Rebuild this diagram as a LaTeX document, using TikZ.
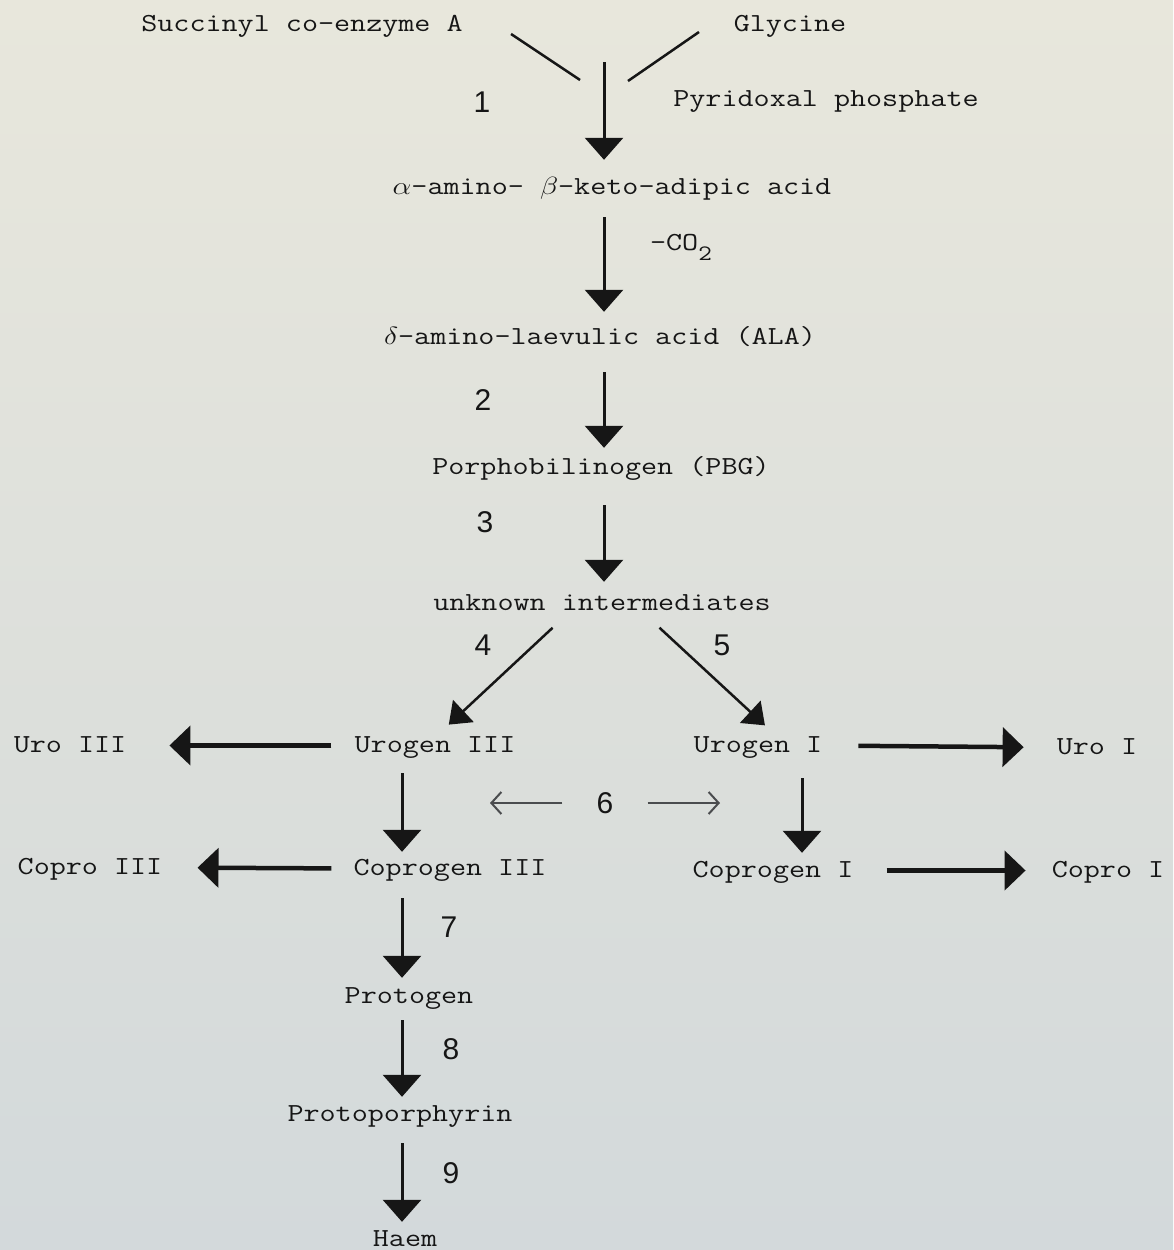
\documentclass[tikz,border=0pt]{standalone}
\usepackage{fontspec}
\newfontfamily\numfont{Liberation Sans}
\usepackage{graphicx}
\usepackage{tikz}
\usetikzlibrary{arrows.meta}
\definecolor{ink}{HTML}{161616}
\definecolor{papertop}{HTML}{E8E7DC}
\definecolor{paperbot}{HTML}{D3D9DB}
\definecolor{faintink}{HTML}{4a4c4e}
\newcommand{\typew}[1]{\scalebox{1.2}[1]{#1}}

\begin{document}
\begin{tikzpicture}[
  x=1pt, y=-1pt,
  compound/.style={
    inner sep=0pt, anchor=base, text height=19pt, text depth=6pt,
    text=ink, font=\ttfamily\fontsize{26}{28}\selectfont\addfontfeatures{FakeBold=1.5}
  },
  stepnum/.style={inner sep=0pt, text=ink, font=\numfont\fontsize{30}{32}\selectfont},
  arrow/.style={-{Triangle[length=22pt,width=38pt]}, line width=3pt, ink},
  slant/.style={-{Triangle[length=20pt,width=30pt]}, line width=2.5pt, ink},
  sidearrow/.style={-{Triangle[length=21pt,width=39pt]}, line width=4.5pt, ink},
  thinarrow/.style={-{Straight Barb[length=10pt,width=22pt]}, line width=2pt, faintink}
]

\shade[top color=papertop, bottom color=paperbot] (0,0) rectangle (1173,1250);
\useasboundingbox (0,0) rectangle (1173,1250);

% compounds
\node[compound] (succ) at (302,31) {\typew{Succinyl co-enzyme A}};
\node[compound] (gly) at (790,31) {\typew{Glycine}};
\node[compound] (pyr) at (826,106) {\typew{Pyridoxal phosphate}};
\node[compound] (akaa) at (612,194) {\typew{$\alpha$-amino- $\beta$-keto-adipic acid}};
\node[compound] (decarb) at (681,250) {\typew{-CO\raisebox{-10pt}{\fontsize{22}{24}\selectfont 2}}};
\node[compound] (ala) at (600,344) {\typew{$\delta$-amino-laevulic acid (ALA)}};
\node[compound] (pbg) at (601,474) {\typew{Porphobilinogen (PBG)}};
\node[compound] (unk) at (602,610) {\typew{unknown intermediates}};

\node[compound] (urothree) at (70,752) {\typew{Uro III}};
\node[compound] (urogenthree) at (435,752) {\typew{Urogen III}};
\node[compound] (urogenone) at (758,752) {\typew{Urogen I}};
\node[compound] (uroone) at (1097,754) {\typew{Uro I}};

\node[compound] (coprothree) at (90,874) {\typew{Copro III}};
\node[compound] (coprogenthree) at (450,875) {\typew{Coprogen III}};
\node[compound] (coprogenone) at (773,877) {\typew{Coprogen I}};
\node[compound] (coproone) at (1108,877) {\typew{Copro I}};

\node[compound] (protogen) at (409,1003) {\typew{Protogen}};
\node[compound] (protopor) at (400,1121) {\typew{Protoporphyrin}};
\node[compound] (haem) at (405,1246) {\typew{Haem}};

% step numbers
\node[stepnum] (s1) at (482,102) {1};
\node[stepnum] (s2) at (483,400) {2};
\node[stepnum] (s3) at (485,522) {3};
\node[stepnum] (s4) at (483,645) {4};
\node[stepnum] (s5) at (722,645) {5};
\node[stepnum] (s6) at (605,803) {6};
\node[stepnum] (s7) at (449,927) {7};
\node[stepnum] (s8) at (451,1049) {8};
\node[stepnum] (s9) at (451,1173) {9};

% columns and free ends
\coordinate (mainaxis) at (604,0);
\coordinate (leftaxis) at (402,0);
\coordinate (rightaxis) at (802,0);
\coordinate (ytop) at (604,62);
\coordinate (succend) at (511,34);
\coordinate (succjoin) at (580,80);
\coordinate (glyend) at (699,32);
\coordinate (glyjoin) at (628,81);
\coordinate (sixleft) at (490,803);
\coordinate (sixright) at (720,803);

% condensation
\draw[line width=2.5pt, ink] (succend) -- (succjoin);
\draw[line width=2.5pt, ink] (glyend) -- (glyjoin);
\draw[arrow, shorten >=15pt] (ytop) -- (akaa.north -| ytop);

% main chain
\draw[arrow, shorten <=17pt, shorten >=13pt] (akaa.south -| mainaxis) -- (ala.north -| mainaxis);
\draw[arrow, shorten <=22pt, shorten >=7pt] (ala.south -| mainaxis) -- (pbg.north -| mainaxis);
\draw[arrow, shorten <=25pt, shorten >=9pt] (pbg.south -| mainaxis) -- (unk.north -| mainaxis);

% isomer split
\draw[slant, shorten <=17pt, shorten >=12pt] ([xshift=-37pt]unk.south) -- ([xshift=5pt]urogenthree.north);
\draw[slant, shorten <=17pt, shorten >=11pt] ([xshift=45pt]unk.south) -- ([xshift=15pt]urogenone.north);

% oxidation products
\draw[sidearrow, shorten <=23pt, shorten >=43pt] (urogenthree.west) -- (urothree.east);
\draw[sidearrow, shorten <=36pt, shorten >=33pt] (urogenone.east) -- (uroone.west);
\draw[sidearrow, shorten <=22pt, shorten >=35pt] (coprogenthree.west) -- (coprothree.east);
\draw[sidearrow, shorten <=33pt, shorten >=26pt] (coprogenone.east) -- (coproone.west);

% step 6
\draw[thinarrow, shorten <=34pt] (s6.west) -- (sixleft);
\draw[thinarrow, shorten <=34pt] (s6.east) -- (sixright);

% decarboxylation
\draw[arrow, shorten <=15pt, shorten >=4pt] (urogenthree.south -| leftaxis) -- (coprogenthree.north -| leftaxis);
\draw[arrow, shorten <=20pt, shorten >=5pt] (urogenone.south -| rightaxis) -- (coprogenone.north -| rightaxis);

% to haem
\draw[arrow, shorten <=17pt, shorten >=6pt] (coprogenthree.south -| leftaxis) -- (protogen.north -| leftaxis);
\draw[arrow, shorten <=11pt, shorten >=5pt] (protogen.south -| leftaxis) -- (protopor.north -| leftaxis);
\draw[arrow, shorten <=16pt, shorten >=5pt] (protopor.south -| leftaxis) -- (haem.north -| leftaxis);

\end{tikzpicture}
\end{document}
